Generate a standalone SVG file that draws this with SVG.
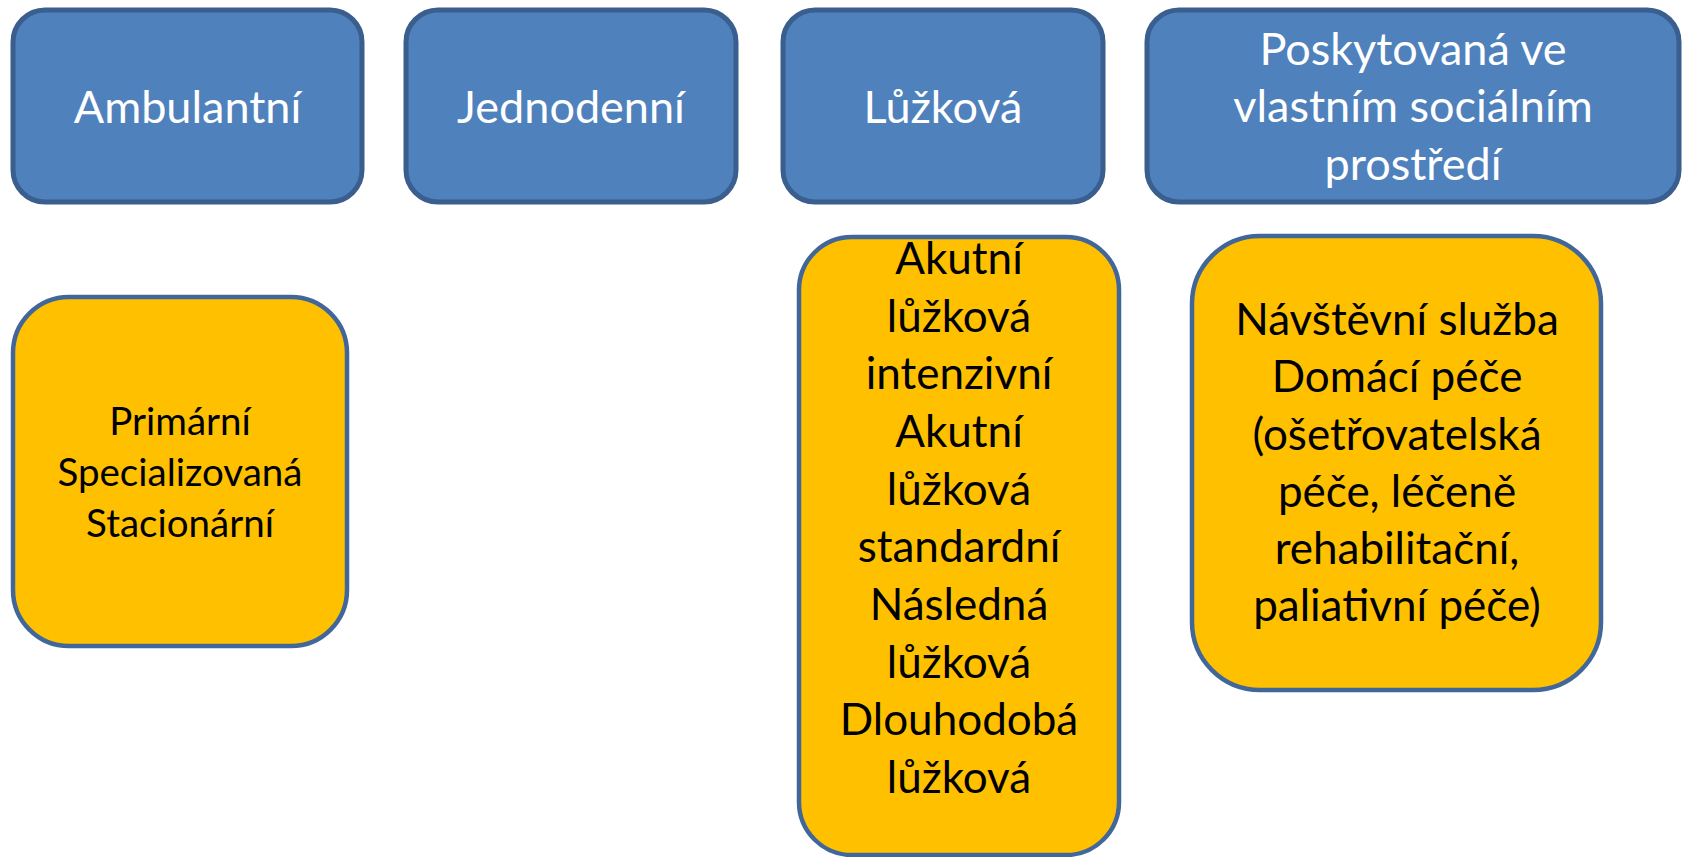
<svg xmlns="http://www.w3.org/2000/svg" width="1685" height="857" viewBox="0 0 1685 857">
<style>
.blue{fill:#4F81BD;stroke:#3A5F8E;stroke-width:5}
.yel{fill:#FFC000;stroke:#41679A;stroke-width:4.5}
.tw{fill:#FFFFFF;font-family:Lato,"Open Sans","Liberation Sans",sans-serif;font-size:45px;text-anchor:middle}
.tb{fill:#000000;font-family:Lato,"Open Sans","Liberation Sans",sans-serif;font-size:44px;text-anchor:middle}
.ts{font-size:38.5px}
</style>
<rect width="1685" height="857" fill="#FFFFFF"/>
<g id="connectors"></g>
<g id="ambulantni">
<rect class="blue" x="13" y="10" width="349" height="192" rx="32" ry="32"/>
<text class="tw" x="187.5" y="123">Ambulantní</text>
</g>
<g id="jednodenni">
<rect class="blue" x="406" y="10" width="330" height="192" rx="32" ry="32"/>
<text class="tw" x="571" y="123">Jednodenní</text>
</g>
<g id="luzkova">
<rect class="blue" x="783" y="10" width="320" height="192" rx="32" ry="32"/>
<text class="tw" x="943" y="123">Lůžková</text>
</g>
<g id="prostredi">
<rect class="blue" x="1147" y="10" width="532" height="192" rx="32" ry="32"/>
<text class="tw" x="1413" y="65">Poskytovaná ve</text>
<text class="tw" x="1413" y="122">vlastním sociálním</text>
<text class="tw" x="1413" y="180">prostředí</text>
</g>
<g id="ambulantni-typy">
<rect class="yel" x="13" y="297" width="334" height="349" rx="56" ry="56"/>
<text class="tb ts" x="180" y="435">Primární</text>
<text class="tb ts" x="180" y="486">Specializovaná</text>
<text class="tb ts" x="180" y="537">Stacionární</text>
</g>
<g id="luzkova-typy">
<rect class="yel" x="799" y="237" width="320" height="618" rx="53" ry="53"/>
<text class="tb" x="959" y="274">Akutní</text>
<text class="tb" x="959" y="332">lůžková</text>
<text class="tb" x="959" y="389">intenzivní</text>
<text class="tb" x="959" y="447">Akutní</text>
<text class="tb" x="959" y="505">lůžková</text>
<text class="tb" x="959" y="562">standardní</text>
<text class="tb" x="959" y="620">Následná</text>
<text class="tb" x="959" y="678">lůžková</text>
<text class="tb" x="959" y="735">Dlouhodobá</text>
<text class="tb" x="959" y="793">lůžková</text>
</g>
<g id="prostredi-typy">
<rect class="yel" x="1192" y="236" width="409" height="454" rx="68" ry="68"/>
<text class="tb" x="1397" y="335">Návštěvní služba</text>
<text class="tb" x="1397" y="392">Domácí péče</text>
<text class="tb" x="1397" y="450">(ošetřovatelská</text>
<text class="tb" x="1397" y="507">péče, léčeně</text>
<text class="tb" x="1397" y="564">rehabilitační,</text>
<text class="tb" x="1397" y="621">paliativní péče)</text>
</g>
</svg>
